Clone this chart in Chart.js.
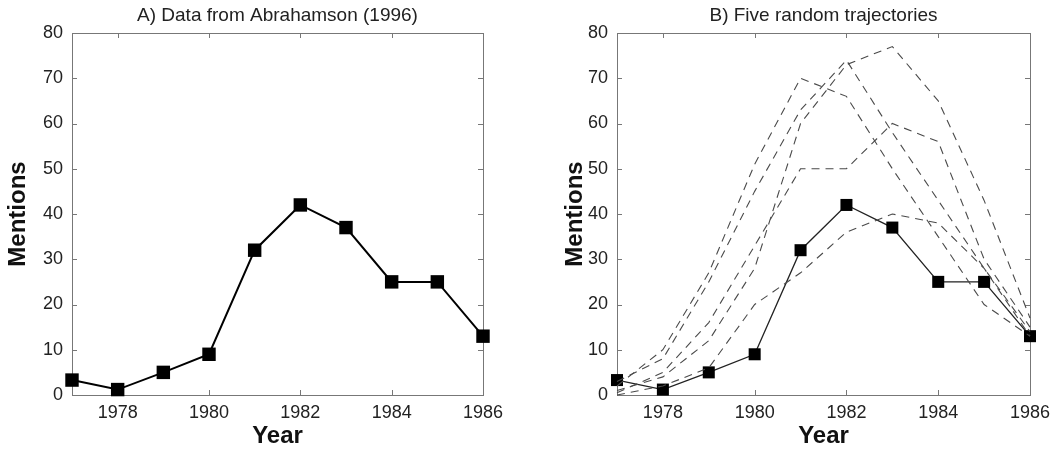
<!DOCTYPE html>
<html>
<head>
<meta charset="utf-8">
<script src="https://cdn.jsdelivr.net/npm/chart.js@4/dist/chart.umd.min.js"></script>
<style>
  html, body { margin: 0; padding: 0; background: #ffffff; }
  #wrap { position: relative; width: 1050px; height: 450px; overflow: hidden; }
  canvas { position: absolute; top: 0; }
  #cA { left: 0; }
  #cB { left: 525px; }
</style>
</head>
<body>
<div id="wrap">
  <canvas id="cA" width="525" height="450"></canvas>
  <canvas id="cB" width="525" height="450"></canvas>
</div>
<script>
// ---- data ----
const years = [1977, 1978, 1979, 1980, 1981, 1982, 1983, 1984, 1985, 1986];
const observed = [3.3, 1.2, 5, 9, 32, 42, 37, 25, 25, 13];
const traj1 = [3, 8, 25, 45, 63, 74, 58, 43, 28, 14];
const traj2 = [1, 4, 12, 28, 60, 73, 77, 65, 43, 17];
const traj3 = [2, 10, 27, 51, 70, 66, 50, 35, 20, 13];
const traj4 = [0.5, 5, 16, 33, 50, 50, 60, 56, 30, 15];
const traj5 = [0, 2, 6, 20, 27, 36, 40, 38, 28, 13];
const xTickValues = [1978, 1980, 1982, 1984, 1986];
const yTickValues = [0, 10, 20, 30, 40, 50, 60, 70, 80];
const titleA = 'A) Data from Abrahamson (1996)';
const titleB = 'B) Five random trajectories';
const xTitle = 'Year';
const yTitle = 'Mentions';

const pts = arr => years.map((yr, i) => ({ x: yr, y: arr[i] }));

const FONT = "'Liberation Sans', Arial, Helvetica, sans-serif";

const boxTicks = {
  id: 'boxTicks',
  beforeDatasetsDraw(chart) {
    const { ctx, chartArea: a, scales: { x, y } } = chart;
    ctx.save();
    ctx.strokeStyle = '#777';
    ctx.lineWidth = 1;
    ctx.strokeRect(a.left + 0.5, a.top + 0.5, a.right - a.left, a.bottom - a.top);
    ctx.beginPath();
    const L = 5;
    x.ticks.forEach(t => {
      const px = Math.round(x.getPixelForValue(t.value)) + 0.5;
      ctx.moveTo(px, a.bottom); ctx.lineTo(px, a.bottom - L);
      ctx.moveTo(px, a.top); ctx.lineTo(px, a.top + L);
    });
    y.ticks.forEach(t => {
      const py = Math.round(y.getPixelForValue(t.value)) + 0.5;
      ctx.moveTo(a.left, py); ctx.lineTo(a.left + L, py);
      ctx.moveTo(a.right, py); ctx.lineTo(a.right - L, py);
    });
    ctx.stroke();
    ctx.restore();
  }
};

function makeOptions(title, yWidth, yTitlePad, rightPad) {
  return {
    responsive: false,
    animation: false,
    devicePixelRatio: 1,
    clip: false,
    layout: { padding: { left: 0, right: rightPad, top: 0, bottom: 0 } },
    plugins: {
      legend: { display: false },
      tooltip: { enabled: false },
      title: {
        display: true,
        fullSize: false,
        text: title,
        color: '#222',
        font: { family: FONT, size: 19, weight: 'normal', lineHeight: 1.2 },
        padding: { top: 4, bottom: 6.2 }
      }
    },
    scales: {
      x: {
        type: 'linear',
        min: 1977, max: 1986,
        afterBuildTicks: s => { s.ticks = xTickValues.map(v => ({ value: v })); },
        afterFit: s => { s.height = 55; s.paddingLeft = 0; s.paddingRight = 0; },
        grid: { display: false, drawTicks: false },
        border: { display: false },
        ticks: {
          padding: 7,
          color: '#222',
          maxRotation: 0,
          autoSkip: false,
          font: { family: FONT, size: 18, lineHeight: 1.2 },
          callback: v => String(v)
        },
        title: {
          display: true,
          text: xTitle,
          color: '#111',
          font: { family: FONT, size: 24, weight: 'bold', lineHeight: 1.1 },
          padding: { top: 0, bottom: 0 }
        }
      },
      y: {
        type: 'linear',
        min: 0, max: 80,
        afterBuildTicks: s => { s.ticks = yTickValues.map(v => ({ value: v })); },
        afterFit: s => { s.width = yWidth; s.paddingTop = 0; s.paddingBottom = 0; },
        grid: { display: false, drawTicks: false },
        border: { display: false },
        ticks: {
          padding: 9,
          color: '#222',
          autoSkip: false,
          font: { family: FONT, size: 18, lineHeight: 1.2 },
          callback: v => String(v)
        },
        title: {
          display: true,
          text: yTitle,
          color: '#111',
          font: { family: FONT, size: 24, weight: 'bold', lineHeight: 1.1 },
          padding: { top: yTitlePad, bottom: 0 }
        }
      }
    }
  };
}

new Chart(document.getElementById('cA'), {
  type: 'line',
  data: {
    datasets: [{
      data: pts(observed),
      borderColor: '#000',
      borderWidth: 2,
      pointStyle: 'rect',
      pointRadius: 9.5,
      pointBackgroundColor: '#000',
      pointBorderColor: '#000',
      pointBorderWidth: 0,
      tension: 0,
      clip: false
    }]
  },
  options: makeOptions(titleA, 72, 5, 42),
  plugins: [boxTicks]
});

const dashed = arr => ({
  data: pts(arr),
  borderColor: '#4a4a4a',
  borderWidth: 1.1,
  borderDash: [8, 6],
  pointRadius: 0,
  tension: 0,
  clip: false
});

new Chart(document.getElementById('cB'), {
  type: 'line',
  data: {
    datasets: [
      dashed(traj1), dashed(traj2), dashed(traj3), dashed(traj4), dashed(traj5),
      {
        data: pts(observed),
        borderColor: '#222',
        borderWidth: 1.3,
        pointStyle: 'rect',
        pointRadius: 8.5,
        pointBackgroundColor: '#000',
        pointBorderColor: '#000',
        pointBorderWidth: 0,
        tension: 0,
        clip: false
      }
    ]
  },
  options: makeOptions(titleB, 92, 37, 20),
  plugins: [boxTicks]
});
</script>
</body>
</html>
